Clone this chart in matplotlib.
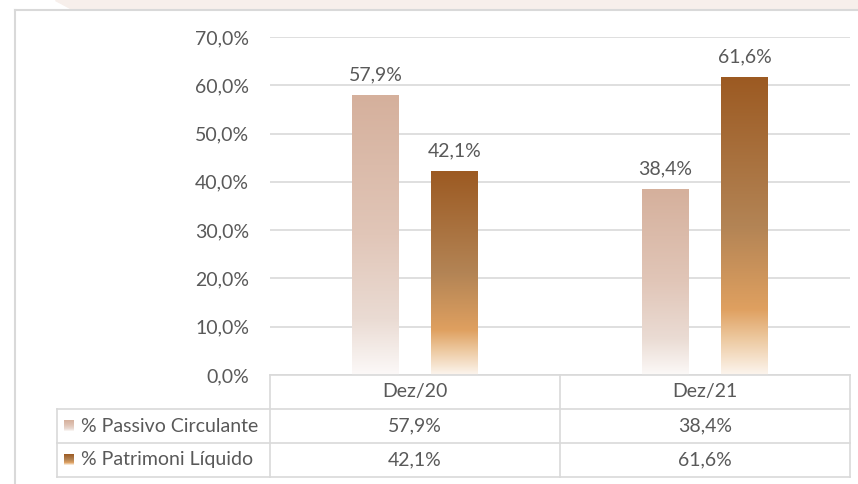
import numpy as np
import matplotlib.pyplot as plt
from matplotlib.colors import LinearSegmentedColormap
from matplotlib.patches import Polygon

plt.rcParams['font.family'] = ['Lato', 'DejaVu Sans']

# dados
categorias = ["Dez/20", "Dez/21"]
series = ["% Passivo Circulante", "% Patrimoni Líquido"]
passivo = [57.9, 38.4]
patrimonio = [42.1, 61.6]
yticks = [0, 10, 20, 30, 40, 50, 60, 70]

cinza_txt = "#595959"
cinza_linha = "#D9D9D9"
fs = 14

# gradientes (0 = base da barra, 1 = topo)
cmap_passivo = LinearSegmentedColormap.from_list(
    "passivo", [(0.0, "#FCF9F8"), (0.2, "#EADBD3"), (0.5, "#E1C6B8"), (1.0, "#D5B09C")])
cmap_patrim = LinearSegmentedColormap.from_list(
    "patrim", [(0.0, "#FCF5EE"), (0.12, "#EDC9A0"), (0.22, "#DFA060"),
               (0.5, "#B38455"), (1.0, "#9C5A22")])
cmaps = [cmap_passivo, cmap_patrim]

def fmt(v):
    return f"{v:.1f}%".replace(".", ",")

W, H = 858, 484
fig = plt.figure(figsize=(W / 100, H / 100), dpi=100)

# fundo / moldura
fig.patches.append(Polygon([(55 / W, 1), (1, 1), (1, 1 - 8 / H), (70 / W, 1 - 8 / H)],
                           closed=True, transform=fig.transFigure, color="#F7EFEB", zorder=0))
fig.add_artist(plt.Line2D([15 / W, 1], [1 - 10 / H, 1 - 10 / H], color=cinza_linha, lw=1.5))
fig.add_artist(plt.Line2D([15 / W, 15 / W], [0, 1 - 10 / H], color=cinza_linha, lw=1.5))

x0, x1 = 270, 850
ytop, ybot = 37, 375
ax = fig.add_axes([x0 / W, 1 - ybot / H, (x1 - x0) / W, (ybot - ytop) / H])
ax.set_yticks(yticks)
ax.set_yticklabels([fmt(t) for t in yticks], fontsize=fs, color=cinza_txt)
ax.tick_params(axis="y", length=0, pad=15)
ax.set_xticks([])
for s in ax.spines.values():
    s.set_visible(False)
ax.grid(axis="y", color=cinza_linha, lw=1.2)
ax.set_axisbelow(True)

x = np.arange(len(categorias))
largura = 0.162
desloc = 0.136
grad = np.linspace(0, 1, 256).reshape(-1, 1)
for i, valores in enumerate([passivo, patrimonio]):
    barras = ax.bar(x + (i * 2 - 1) * desloc, valores, largura, color="none", zorder=2)
    for b, v in zip(barras, valores):
        bx, bw, bh = b.get_x(), b.get_width(), b.get_height()
        ax.imshow(grad, cmap=cmaps[i], origin="lower", aspect="auto",
                  extent=(bx, bx + bw, 0, bh), zorder=2, interpolation="bilinear")
        ax.annotate(fmt(v), (bx + bw / 2, bh), xytext=(0, 9), textcoords="offset points",
                    ha="center", va="bottom", fontsize=fs, color=cinza_txt)
ax.set_xlim(-0.5, 1.5)
ax.set_ylim(0, 70)

# tabela de dados
tl = 57
tb = 477
px = (x1 - x0) / 2  # pixels por unidade
axt = fig.add_axes([tl / W, 1 - tb / H, (x1 - tl) / W, (tb - ybot) / H])
esq = -0.5 - (x0 - tl) / px
lk = dict(color=cinza_linha, lw=1.2, clip_on=False)
axt.plot([-0.5, 1.5], [0, 0], **lk)
for yy in [1, 2, 3]:
    axt.plot([esq, 1.5], [yy, yy], **lk)
for xx in [-0.5, 0.5, 1.5]:
    axt.plot([xx, xx], [0, 3], **lk)
axt.plot([esq, esq], [1, 3], **lk)

for j, c in enumerate(categorias):
    axt.text(j, 0.5, c, ha="center", va="center", fontsize=fs, color=cinza_txt)
for i, (nome, valores) in enumerate(zip(series, [passivo, patrimonio])):
    yy = 1.5 + i
    # amostra da legenda com gradiente
    sx = esq + 7 / px
    sw = 10 / px
    axt.imshow(grad, cmap=cmaps[i], origin="lower", aspect="auto",
               extent=(sx, sx + sw, yy + 0.15, yy - 0.15), zorder=2)
    axt.text(esq + 24 / px, yy, nome, ha="left", va="center", fontsize=fs, color=cinza_txt)
    for j, v in enumerate(valores):
        axt.text(j, yy, fmt(v), ha="center", va="center", fontsize=fs, color=cinza_txt)
axt.set_xlim(esq, 1.5)
axt.set_ylim(3, 0)
axt.axis("off")

fig.savefig("out.png", dpi=100)
